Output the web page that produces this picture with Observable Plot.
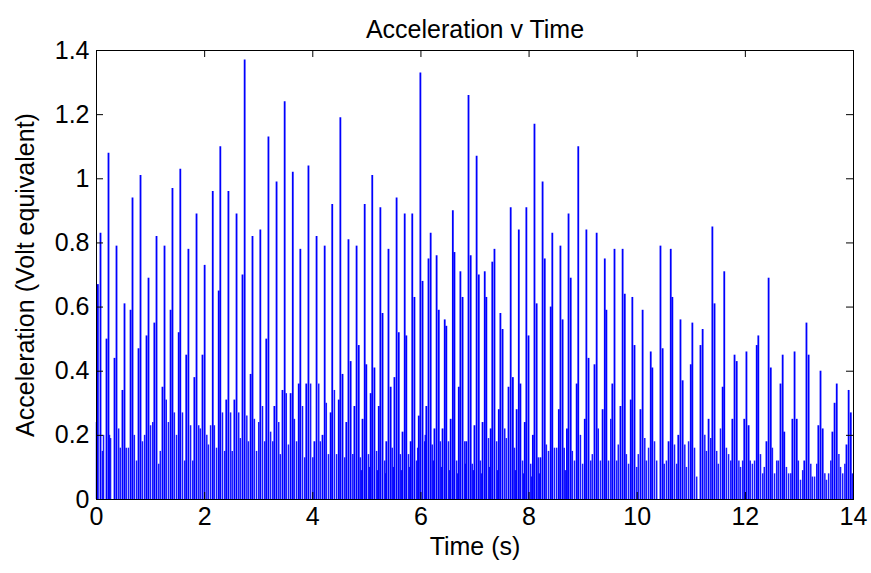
<!DOCTYPE html>
<html>
<head>
<meta charset="utf-8">
<script src="https://cdn.jsdelivr.net/npm/d3@7"></script>
<script src="https://cdn.jsdelivr.net/npm/@observablehq/plot@0.6"></script>
<style>
  html, body { margin: 0; padding: 0; background: #ffffff; }
  #chart { width: 871px; height: 573px; }
</style>
</head>
<body>
<div id="chart"></div>
<script>
// ---- Data ----
const chartTitle = "Acceleration v Time";
const xLabel = "Time (s)";
const yLabel = "Acceleration (Volt equivalent)";
const xTicks = [0, 2, 4, 6, 8, 10, 12, 14];
const yTicks = [0, 0.2, 0.4, 0.6, 0.8, 1.0, 1.2, 1.4];

// Large spikes (main impacts and their companion spikes): time (s)
const peakTime = [
  0.025, 0.074, 0.185, 0.222, 0.333, 0.37, 0.48, 0.518, 0.63, 0.666,
  0.777, 0.814, 0.925, 0.962, 1.07, 1.11, 1.22, 1.258, 1.37, 1.405,
  1.52, 1.55, 1.66, 1.70, 1.81, 1.85, 1.96, 2.0, 2.15, 2.26,
  2.29, 2.40, 2.44, 2.55, 2.59, 2.70, 2.74, 2.85, 2.885, 3.03,
  3.14, 3.18, 3.29, 3.33, 3.44, 3.48, 3.59, 3.63, 3.74, 3.77,
  3.88, 3.92, 4.03, 4.07, 4.18, 4.22, 4.33, 4.36, 4.48, 4.51,
  4.55, 4.62, 4.66, 4.70, 4.77, 4.81, 4.85, 4.92, 4.96, 4.99,
  5.07, 5.10, 5.14, 5.22, 5.25, 5.29, 5.36, 5.40, 5.44, 5.51,
  5.55, 5.59, 5.66, 5.70, 5.73, 5.81, 5.84, 5.88, 5.96, 5.99,
  6.03, 6.10, 6.14, 6.18, 6.25, 6.29, 6.33, 6.40, 6.44, 6.47,
  6.55, 6.59, 6.62, 6.70, 6.73, 6.77, 6.84, 6.88, 6.92, 6.99,
  7.03, 7.07, 7.14, 7.18, 7.21, 7.29, 7.32, 7.36, 7.44, 7.47,
  7.51, 7.62, 7.66, 7.70, 7.77, 7.81, 7.84, 7.92, 7.95, 7.99,
  8.07, 8.10, 8.14, 8.21, 8.25, 8.29, 8.40, 8.43, 8.55, 8.58,
  8.62, 8.70, 8.73, 8.77, 8.88, 8.91, 9.03, 9.06, 9.10, 9.21,
  9.25, 9.36, 9.40, 9.43, 9.54, 9.58, 9.69, 9.73, 9.77, 9.88,
  9.91, 9.95, 10.06, 10.10, 10.25, 10.28, 10.43, 10.47, 10.58, 10.62,
  10.65, 10.76, 10.80, 10.84, 10.99, 11.02, 11.17, 11.21, 11.32, 11.39,
  11.43, 11.58, 11.61, 11.76, 11.80, 11.84, 11.98, 12.02, 12.06, 12.21,
  12.24, 12.39, 12.43, 12.47, 12.65, 12.69, 12.72, 12.87, 12.91, 12.95,
  13.09, 13.13, 13.17, 13.35, 13.39, 13.43, 13.61, 13.65, 13.69, 13.87,
  13.91, 13.95
];
// Large spikes: acceleration (V equivalent)
const peakValue = [
  0.67, 0.83, 0.50, 1.08, 0.44, 0.79, 0.34, 0.61, 0.59, 0.94,
  0.47, 1.01, 0.51, 0.69, 0.55, 0.82, 0.35, 0.79, 0.59, 0.97,
  0.52, 1.03, 0.45, 0.78, 0.38, 0.89, 0.45, 0.73, 0.96, 0.65,
  1.10, 0.31, 0.96, 0.31, 0.89, 0.70, 1.37, 0.39, 0.82, 0.84,
  0.50, 1.13, 0.29, 0.99, 0.34, 1.24, 0.33, 1.02, 0.36, 0.78,
  0.36, 1.04, 0.18, 0.82, 0.20, 0.79, 0.27, 0.92, 0.31, 1.19,
  0.39, 0.24, 0.81, 0.43, 0.29, 0.79, 0.48, 0.25, 0.92, 0.42,
  0.33, 1.01, 0.41, 0.29, 0.91, 0.58, 0.18, 0.78, 0.35, 0.38,
  0.94, 0.52, 0.21, 0.89, 0.51, 0.18, 0.89, 0.63, 0.26, 1.33,
  0.68, 0.29, 0.75, 0.83, 0.22, 0.76, 0.59, 0.22, 0.56, 0.54,
  0.25, 0.90, 0.77, 0.35, 0.71, 0.63, 0.18, 1.26, 0.76, 0.23,
  1.07, 0.70, 0.24, 0.71, 0.63, 0.22, 0.74, 0.78, 0.28, 0.58,
  0.53, 0.35, 0.91, 0.38, 0.28, 0.84, 0.36, 0.24, 0.91, 0.51,
  0.20, 1.17, 0.61, 0.13, 0.99, 0.75, 0.60, 0.83, 0.28, 0.79,
  0.56, 0.22, 0.89, 0.69, 0.36, 1.10, 0.25, 0.84, 0.44, 0.42,
  0.83, 0.28, 0.75, 0.59, 0.36, 0.78, 0.29, 0.78, 0.64, 0.31,
  0.63, 0.48, 0.28, 0.59, 0.46, 0.41, 0.79, 0.47, 0.18, 0.78,
  0.63, 0.20, 0.56, 0.37, 0.42, 0.55, 0.48, 0.53, 0.25, 0.85,
  0.61, 0.35, 0.71, 0.25, 0.45, 0.43, 0.25, 0.46, 0.23, 0.48,
  0.51, 0.18, 0.69, 0.41, 0.36, 0.45, 0.21, 0.25, 0.46, 0.25,
  0.12, 0.55, 0.45, 0.23, 0.40, 0.22, 0.21, 0.30, 0.36, 0.17,
  0.34, 0.27
];

// Small background spikes: time (s)
const noiseTime = [
  0.00, 0.11, 0.13, 0.24, 0.26, 0.41, 0.44, 0.55, 0.59, 0.70,
  0.74, 0.85, 0.89, 1.00, 1.04, 1.15, 1.18, 1.29, 1.33, 1.44,
  1.48, 1.59, 1.63, 1.74, 1.78, 1.89, 1.92, 2.04, 2.07, 2.11,
  2.18, 2.22, 2.33, 2.37, 2.48, 2.51, 2.63, 2.66, 2.78, 2.81,
  2.92, 2.96, 3.00, 3.07, 3.11, 3.22, 3.26, 3.37, 3.40, 3.51,
  3.55, 3.66, 3.70, 3.81, 3.85, 3.96, 4.00, 4.11, 4.14, 4.25,
  4.29, 4.40, 4.44, 4.59, 4.74, 4.88, 4.90, 5.03, 5.05, 5.18,
  5.20, 5.33, 5.35, 5.47, 5.49, 5.62, 5.64, 5.77, 5.79, 5.92,
  5.94, 6.07, 6.08, 6.21, 6.23, 6.36, 6.38, 6.51, 6.53, 6.66,
  6.68, 6.81, 6.82, 6.95, 6.97, 7.10, 7.12, 7.25, 7.27, 7.40,
  7.42, 7.55, 7.58, 7.73, 7.75, 7.88, 7.90, 8.03, 8.05, 8.17,
  8.19, 8.32, 8.36, 8.47, 8.51, 8.65, 8.67, 8.80, 8.84, 8.95,
  8.99, 9.14, 9.17, 9.28, 9.32, 9.47, 9.51, 9.62, 9.65, 9.80,
  9.84, 9.99, 10.02, 10.14, 10.17, 10.21, 10.32, 10.36, 10.50, 10.54,
  10.69, 10.73, 10.88, 10.91, 10.95, 11.06, 11.10, 11.25, 11.28, 11.36,
  11.47, 11.50, 11.54, 11.65, 11.69, 11.73, 11.88, 11.91, 11.95, 12.09,
  12.13, 12.17, 12.28, 12.32, 12.35, 12.50, 12.54, 12.58, 12.61, 12.76,
  12.80, 12.84, 12.98, 13.02, 13.06, 13.21, 13.24, 13.28, 13.32, 13.47,
  13.50, 13.54, 13.58, 13.73, 13.76, 13.80, 13.84, 13.98
];
// Small background spikes: acceleration (V equivalent)
const noiseValue = [
  0.24, 0.15, 0.20, 0.20, 0.19, 0.22, 0.16, 0.16, 0.16, 0.20,
  0.12, 0.18, 0.20, 0.23, 0.24, 0.11, 0.15, 0.31, 0.24, 0.27,
  0.20, 0.27, 0.12, 0.23, 0.12, 0.23, 0.22, 0.20, 0.17, 0.23,
  0.23, 0.16, 0.27, 0.15, 0.27, 0.15, 0.27, 0.19, 0.26, 0.18,
  0.25, 0.15, 0.24, 0.29, 0.18, 0.21, 0.18, 0.24, 0.14, 0.33,
  0.17, 0.25, 0.18, 0.29, 0.13, 0.36, 0.13, 0.36, 0.18, 0.30,
  0.14, 0.34, 0.14, 0.13, 0.14, 0.13, 0.09, 0.14, 0.10, 0.15,
  0.09, 0.12, 0.08, 0.16, 0.10, 0.14, 0.09, 0.14, 0.10, 0.12,
  0.16, 0.18, 0.20, 0.17, 0.12, 0.18, 0.10, 0.18, 0.09, 0.12,
  0.08, 0.18, 0.11, 0.11, 0.09, 0.12, 0.08, 0.19, 0.10, 0.18,
  0.09, 0.22, 0.19, 0.16, 0.09, 0.12, 0.08, 0.11, 0.07, 0.13,
  0.08, 0.17, 0.15, 0.16, 0.16, 0.16, 0.09, 0.15, 0.12, 0.20,
  0.11, 0.12, 0.14, 0.22, 0.12, 0.12, 0.25, 0.12, 0.17, 0.14,
  0.11, 0.10, 0.14, 0.19, 0.12, 0.16, 0.18, 0.12, 0.11, 0.12,
  0.17, 0.11, 0.17, 0.10, 0.18, 0.16, 0.07, 0.20, 0.15, 0.19,
  0.15, 0.11, 0.22, 0.16, 0.14, 0.12, 0.12, 0.10, 0.12, 0.12,
  0.11, 0.12, 0.14, 0.08, 0.10, 0.16, 0.08, 0.12, 0.12, 0.10,
  0.08, 0.08, 0.12, 0.06, 0.09, 0.11, 0.07, 0.07, 0.11, 0.08,
  0.06, 0.08, 0.12, 0.14, 0.10, 0.08, 0.11, 0.08
];

// ---- Build tables ----
const peaks = peakTime.map((t, i) => ({t, v: peakValue[i]}));
const noise = noiseTime.map((t, i) => ({t, v: noiseValue[i]}));

const W = 871, H = 573;
const mT = 50, mR = 18, mB = 74, mL = 96;
const plotW = W - mL - mR, plotH = H - mT - mB;
const xMax = 14, yMax = 1.4;
const tickLen = 7; // px, inward ticks
const tx = tickLen / plotW * xMax;
const ty = tickLen / plotH * yMax;
const fmt = d => String(Math.round(d * 10) / 10);
const blue = "#0000ff";

const chart = Plot.plot({
  width: W, height: H,
  marginTop: mT, marginRight: mR, marginBottom: mB, marginLeft: mL,
  x: {domain: [0, xMax]},
  y: {domain: [0, yMax]},
  style: {fontFamily: "'Liberation Sans', Arial, sans-serif", fontSize: "25px", background: "#ffffff", color: "#000"},
  marks: [
    Plot.ruleX(noise, {x: "t", y1: 0, y2: "v", stroke: blue, strokeWidth: 1.5, strokeOpacity: 0.9}),
    Plot.ruleX(peaks, {x: "t", y1: 0, y2: "v", stroke: blue, strokeWidth: 1.8}),
    Plot.frame({stroke: "#000", strokeWidth: 1}),
    // inward ticks
    Plot.ruleX(xTicks, {x: d => d, y1: 0, y2: ty, stroke: "#000"}),
    Plot.ruleX(xTicks, {x: d => d, y1: yMax - ty, y2: yMax, stroke: "#000"}),
    Plot.ruleY(yTicks, {y: d => d, x1: 0, x2: tx, stroke: "#000"}),
    Plot.ruleY(yTicks, {y: d => d, x1: xMax - tx, x2: xMax, stroke: "#000"}),
    Plot.axisX({ticks: xTicks, tickSize: 0, tickPadding: 8, tickFormat: fmt, label: null, fontSize: 25}),
    Plot.axisY({ticks: yTicks, tickSize: 0, tickPadding: 7, tickFormat: fmt, label: null, fontSize: 25}),
    Plot.text([chartTitle], {frameAnchor: "top", dy: -30, fontSize: 25, fill: "#000"}),
    Plot.text([xLabel], {frameAnchor: "bottom", dy: 55, fontSize: 25, fill: "#000"}),
    Plot.text([yLabel], {frameAnchor: "left", dx: -71, rotate: -90, textAnchor: "middle", fontSize: 25, fill: "#000"})
  ]
});
document.getElementById("chart").appendChild(chart);
</script>
</body>
</html>
